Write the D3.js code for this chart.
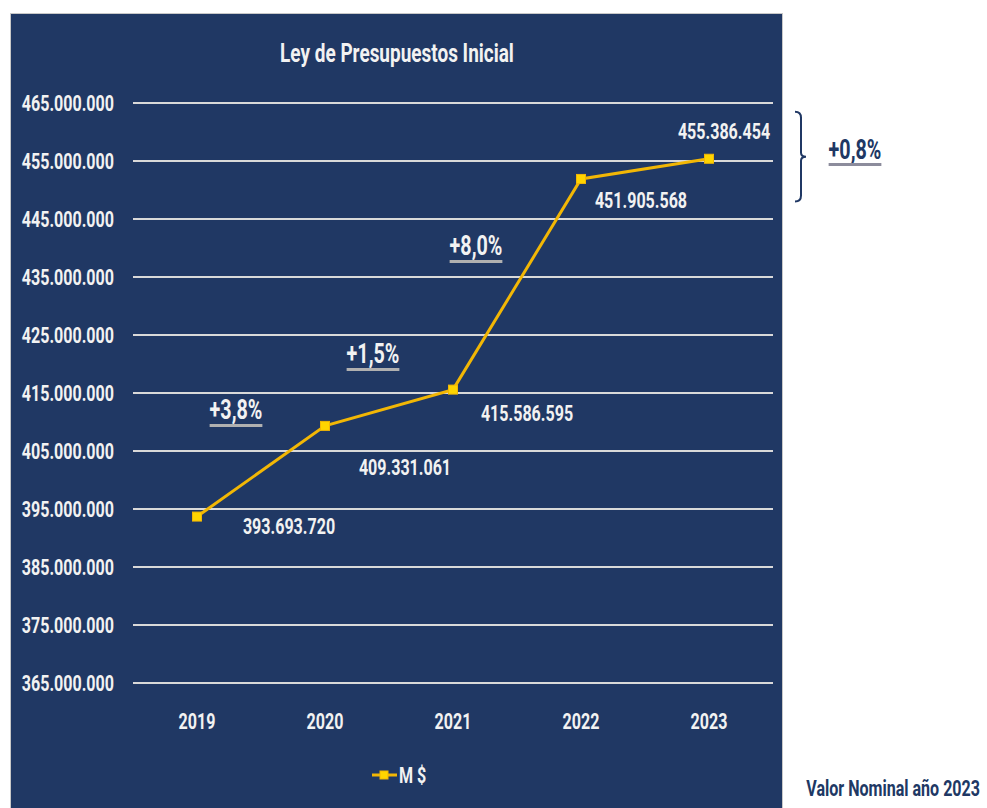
<!DOCTYPE html>
<html>
<head>
<meta charset="utf-8">
<script src="https://cdn.jsdelivr.net/npm/d3@7"></script>
<style>
  body { margin: 0; background: #fff; }
  text { font-family: Roboto, "Noto Sans", sans-serif; font-weight: bold; }
</style>
</head>
<body>
<div id="chart"></div>
<script>
// data
const years = ["2019", "2020", "2021", "2022", "2023"];
const values = [393693720, 409331061, 415586595, 451905568, 455386454];
const valueLabels = ["393.693.720", "409.331.061", "415.586.595", "451.905.568", "455.386.454"];
const yTicks = [365e6, 375e6, 385e6, 395e6, 405e6, 415e6, 425e6, 435e6, 445e6, 455e6, 465e6];
const growthLabels = ["+3,8%", "+1,5%", "+8,0%", "+0,8%"];
const seriesName = "M $";

const W = 987, H = 808;
const navy = "#203864";
const gold = "#f2b705";
const SQ = 0.73; // condensed look

const svg = d3.select("#chart").append("svg")
    .attr("width", W)
    .attr("height", H);

// squeeze text horizontally around its anchor to mimic a condensed face
function squeeze(sel) {
    sel.each(function() {
        const t = d3.select(this);
        const tx = +t.attr("x"), ty = +t.attr("y");
        t.attr("transform", `translate(${tx},${ty}) scale(${SQ},1) translate(${-tx},${-ty})`);
    });
    return sel;
}
const sqWidth = t => t.node().getComputedTextLength() * SQ;

// panel background
svg.append("rect")
    .attr("x", 10.5).attr("y", 13.5)
    .attr("width", 772).attr("height", 800)
    .attr("fill", navy)
    .attr("stroke", "#c8c8c8")
    .attr("stroke-width", 1);

// scales
const x = d3.scaleBand().domain(years).range([133, 773]);
const y = d3.scaleLinear().domain([365e6, 465e6]).range([683, 103]);

const fmt = v => d3.format(",")(v).replace(/,/g, ".");

// title
squeeze(svg.append("text")
    .attr("x", 397).attr("y", 62)
    .attr("text-anchor", "middle")
    .attr("fill", "#f2f2f2")
    .attr("font-size", 26)
    .text("Ley de Presupuestos Inicial"));

// gridlines
svg.append("g").selectAll("line")
    .data(yTicks)
    .join("line")
    .attr("x1", 133).attr("x2", 773)
    .attr("y1", d => y(d)).attr("y2", d => y(d))
    .attr("stroke", "#d9d9d9")
    .attr("stroke-width", 2);

// y-axis labels
squeeze(svg.append("g").selectAll("text")
    .data(yTicks)
    .join("text")
    .attr("x", 114)
    .attr("y", d => y(d) + 8)
    .attr("text-anchor", "end")
    .attr("fill", "#f2f2f2")
    .attr("font-size", 22)
    .text(d => fmt(d)));

// x-axis labels
squeeze(svg.append("g").selectAll("text")
    .data(years)
    .join("text")
    .attr("x", d => x(d) + x.bandwidth() / 2)
    .attr("y", 729)
    .attr("text-anchor", "middle")
    .attr("fill", "#f2f2f2")
    .attr("font-size", 22)
    .text(d => d));

const pts = years.map((yr, i) => ({ year: yr, value: values[i], label: valueLabels[i] }));
const cx = d => x(d.year) + x.bandwidth() / 2;

// line
svg.append("path")
    .datum(pts)
    .attr("fill", "none")
    .attr("stroke", gold)
    .attr("stroke-width", 3)
    .attr("d", d3.line().x(cx).y(d => y(d.value)));

// markers
svg.append("g").selectAll("rect")
    .data(pts)
    .join("rect")
    .attr("x", d => cx(d) - 4.5)
    .attr("y", d => y(d.value) - 4.5)
    .attr("width", 9).attr("height", 9)
    .attr("fill", "#ffd500")
    .attr("stroke", gold)
    .attr("stroke-width", 1);

// value labels
const labelOffsets = [[92, 17], [80, 49], [74, 31], [60, 29], [15, -20]];
squeeze(svg.append("g").selectAll("text")
    .data(pts)
    .join("text")
    .attr("x", (d, i) => cx(d) + labelOffsets[i][0])
    .attr("y", (d, i) => y(d.value) + labelOffsets[i][1])
    .attr("text-anchor", "middle")
    .attr("fill", "#f2f2f2")
    .attr("font-size", 22)
    .text(d => d.label));

// growth labels (between years)
const growthPos = [
    { x: (x("2019") + x("2020")) / 2 + x.bandwidth() / 2 - 25, y: 419 },
    { x: (x("2020") + x("2021")) / 2 + x.bandwidth() / 2 - 16, y: 363 },
    { x: (x("2021") + x("2022")) / 2 + x.bandwidth() / 2 - 41, y: 255 }
];
growthPos.forEach((p, i) => {
    const t = squeeze(svg.append("text")
        .attr("x", p.x).attr("y", p.y)
        .attr("text-anchor", "middle")
        .attr("fill", "#f2f2f2")
        .attr("font-size", 27)
        .attr("font-weight", 500)
        .text(growthLabels[i]));
    const w = sqWidth(t);
    svg.append("rect")
        .attr("x", p.x - w / 2).attr("y", p.y + 5)
        .attr("width", w).attr("height", 3)
        .attr("fill", "#b0b0b0");
});

// bracket + last growth label outside panel
const by0 = y(463.5e6), by1 = y(448e6), bmid = (by0 + by1) / 2;
svg.append("path")
    .attr("d", `M795,${by0} Q801,${by0} 801,${by0 + 6} L801,${bmid - 4} Q801,${bmid} 806,${bmid} Q801,${bmid} 801,${bmid + 4} L801,${by1 - 6} Q801,${by1} 795,${by1}`)
    .attr("fill", "none")
    .attr("stroke", navy)
    .attr("stroke-width", 2);

const t4 = squeeze(svg.append("text")
    .attr("x", 855).attr("y", 159)
    .attr("text-anchor", "middle")
    .attr("fill", navy)
    .attr("font-size", 27)
    .attr("font-weight", "normal")
    .text(growthLabels[3]));
const w4 = sqWidth(t4);
svg.append("rect")
    .attr("x", 855 - w4 / 2).attr("y", 163)
    .attr("width", w4).attr("height", 3)
    .attr("fill", "#8c8c9c");

// legend
const legend = svg.append("g").attr("transform", "translate(372,775)");
legend.append("line")
    .attr("x1", 0).attr("x2", 25)
    .attr("stroke", gold).attr("stroke-width", 3);
legend.append("rect")
    .attr("x", 8).attr("y", -4).attr("width", 8).attr("height", 8)
    .attr("fill", "#ffd500").attr("stroke", gold);
squeeze(legend.append("text")
    .attr("x", 27).attr("y", 8)
    .attr("fill", "#f2f2f2")
    .attr("font-size", 22)
    .text(seriesName));

// footnote
squeeze(svg.append("text")
    .attr("x", 980).attr("y", 796)
    .attr("text-anchor", "end")
    .attr("fill", navy)
    .attr("font-size", 22)
    .text("Valor Nominal año 2023"));
</script>
</body>
</html>
